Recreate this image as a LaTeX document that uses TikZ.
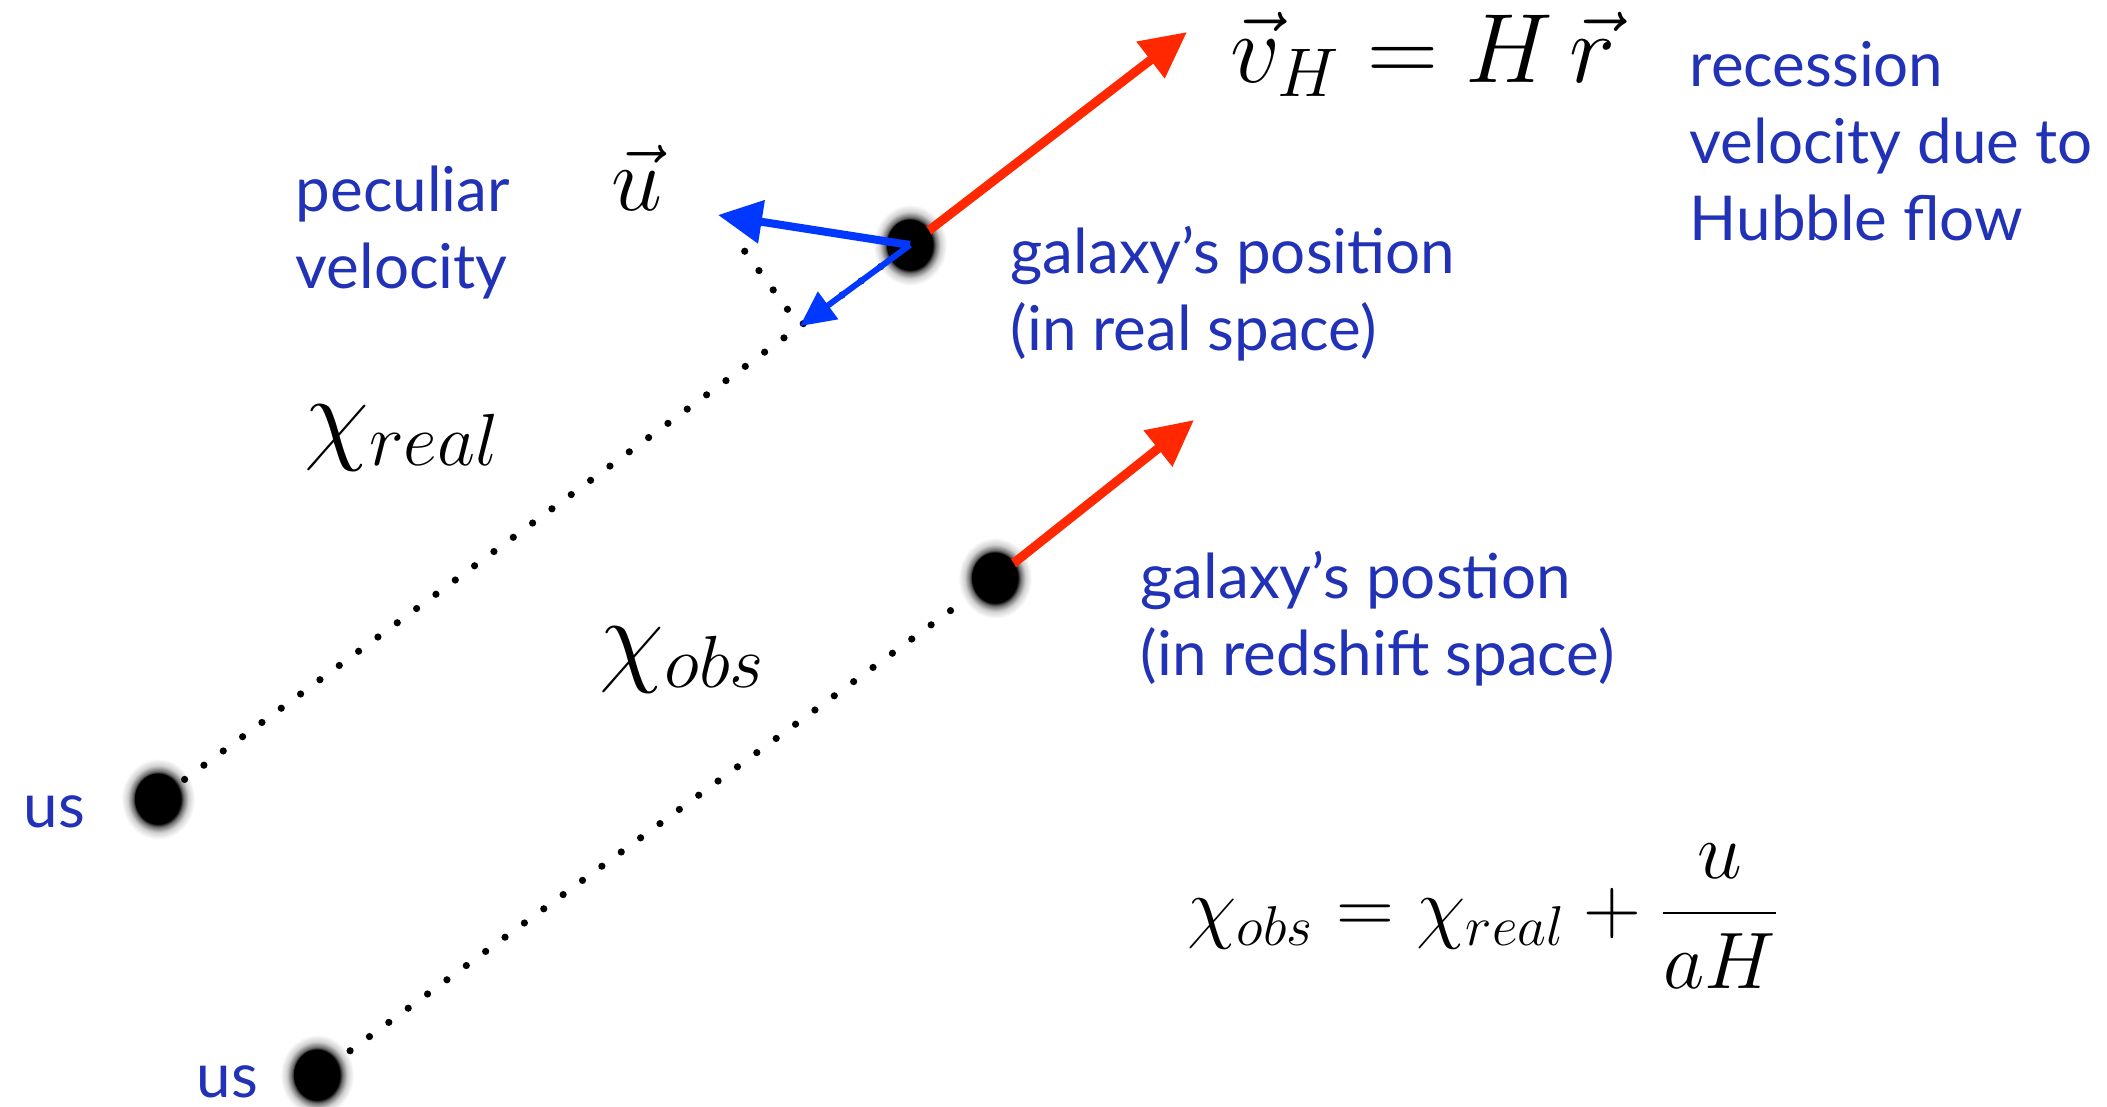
\RequirePackage{fix-cm}
\documentclass[tikz,border=0pt]{standalone}
\usepackage{amsmath}
\usepackage{fontspec}
\setmainfont{Lato}
\usetikzlibrary{arrows.meta,shapes.geometric,calc}
\definecolor{txtblue}{RGB}{33,50,182}
\definecolor{arrblue}{RGB}{0,56,255}
\definecolor{arrred}{RGB}{255,40,0}
\pgfdeclareradialshading{dotglow}{\pgfpoint{0bp}{0bp}}{color(0bp)=(black); color(14bp)=(black); color(16bp)=(black!55); color(19bp)=(black!18); color(23bp)=(white); color(50bp)=(white)}
\pgfdeclarelayer{bg}
\pgfsetlayers{bg,main}
\begin{document}
\begin{tikzpicture}[x=0.01cm,y=-0.01cm,
  dot/.style={ellipse,fill=black,minimum width=0.46cm,minimum height=0.51cm,inner sep=0pt},
  lbl/.style={text=txtblue,font=\fontsize{17.6}{21.8}\selectfont,align=left,inner sep=0pt},
  mth/.style={inner sep=0pt},
  los/.style={line width=0.072cm,line cap=round,dash pattern=on 0pt off 0.24cm},
  redarr/.style={line width=0.09cm,arrred,-{Triangle[length=0.46cm,width=0.44cm]}},
  bluearr/.style={line width=0.08cm,arrblue,-{Triangle[length=0.44cm,width=0.42cm]}},
  smallarr/.style={line width=0.06cm,arrblue,-{Triangle[length=0.35cm,width=0.33cm]}},
  glow/.style={shading=dotglow}
]
\useasboundingbox (0,0) rectangle (2107,1106);
% positions
\coordinate (pG1) at (910,245);
\coordinate (pG2) at (995,578);
\coordinate (pU1) at (158,799);
\coordinate (pU2) at (317,1075);
\coordinate (vHtip) at (1187,32);
\coordinate (v2tip) at (1194,420);
\coordinate (utip) at (718,215);
% glows
\begin{pgfonlayer}{bg}
\foreach \p in {pG1,pG2,pU1,pU2}
  \shade[glow] (\p) ellipse [x radius=0.40cm, y radius=0.44cm];
\end{pgfonlayer}
% dots
\node[dot] (G1) at (pG1) {};
\node[dot] (G2) at (pG2) {};
\node[dot] (U1) at (pU1) {};
\node[dot] (U2) at (pU2) {};
\coordinate (proj) at ($(G1.center)!(utip)!(U1.center)$);
% lines under the dots
\begin{pgfonlayer}{bg}
\draw[los, shorten <=0.33cm, shorten >=0.35cm] (U1.center) -- (G1.center);
\draw[los, shorten <=0.41cm, shorten >=0.32cm] (U2.center) -- (G2.center);
\draw[los, shorten <=0.45cm] (utip) -- (proj);
\draw[redarr] (G1.center) -- (vHtip);
\draw[redarr] (G2.center) -- (v2tip);
\end{pgfonlayer}
% blue arrows over the dot
\draw[bluearr] (G1.center) -- (utip);
\draw[smallarr] (G1.center) -- (proj);
% math labels
\node[mth,anchor=base west,font=\fontsize{28}{34}\selectfont] (vH) at (1230,82) {$\vec v_H = H\,\vec r$};
\node[mth,anchor=base west,font=\fontsize{26}{32}\selectfont] (uvec) at (611,210) {$\vec u$};
\node[mth,anchor=base west,font=\fontsize{30}{36}\selectfont] (chireal) at (304,450) {$\chi_{real}$};
\node[mth,anchor=base west,font=\fontsize{30}{36}\selectfont] (chiobs) at (599,672) {$\chi_{obs}$};
\node[mth,anchor=base west,font=\fontsize{22.8}{27}\selectfont] (eq) at (1187,933) {$\displaystyle \chi_{obs} = \chi_{real} + \frac{u}{aH}$};
% text labels (base = baseline of the last line)
\node[lbl,anchor=base west] (recess) at (1689,240) {recession\\velocity due to\\Hubble flow};
\node[lbl,anchor=base west] (pec) at (295,288) {peculiar\\velocity};
\node[lbl,anchor=base west] (realpos) at (1010,350) {galaxy’s position\\(in real space)};
\node[lbl,anchor=base west] (zpos) at (1140,675) {galaxy’s postion\\(in redshift space)};
\node[lbl,anchor=base west] (us1) at (23,827) {us};
\node[lbl,anchor=base west] (us2) at (196,1097) {us};
\end{tikzpicture}
\end{document}
